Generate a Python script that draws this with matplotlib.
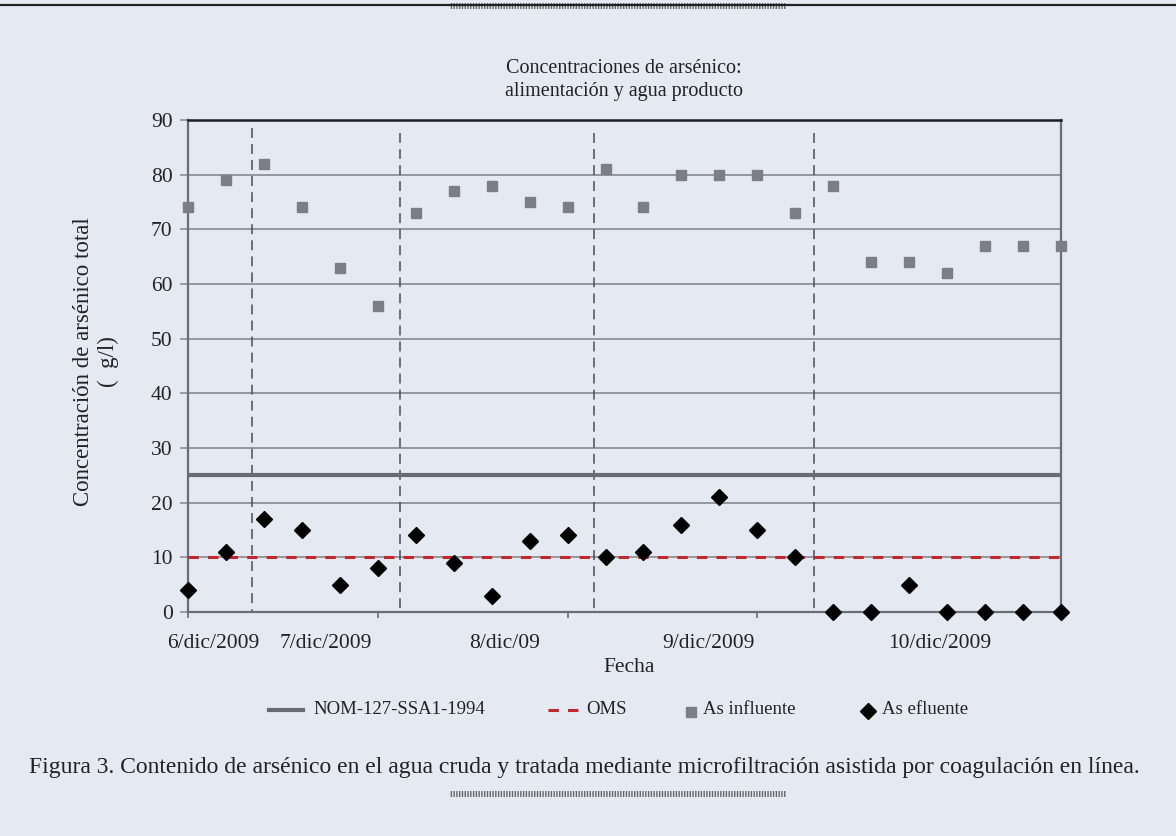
import matplotlib
matplotlib.use('Agg')
import matplotlib.pyplot as plt
from matplotlib.lines import Line2D
from matplotlib.patches import Rectangle

# ---- data ----
influente = [74, 79, 82, 74, 63, 56, 73, 77, 78, 75, 74, 81,
             74, 80, 80, 80, 73, 78, 64, 64, 62, 67, 67, 67]
efluente = [4, 11, 17, 15, 5, 8, 14, 9, 3, 13, 14, 10,
            11, 16, 21, 15, 10, 0, 0, 5, 0, 0, 0, 0]
nom_limit = 25
oms_limit = 10
day_labels = ['6/dic/2009', '7/dic/2009', '8/dic/09', '9/dic/2009', '10/dic/2009']
day_label_pos = [0.66, 3.64, 8.35, 13.7, 19.8]
day_dividers = [1.68, 5.58, 10.7, 16.5]
divider_tops = [88.5, 87.6, 87.6, 87.6]
y_ticks = [0, 10, 20, 30, 40, 50, 60, 70, 80, 90]
x_major = [0, 5, 10, 15, 20]

BG = '#e5eaf2'
GRID = '#8d9097'
SPINE = '#6a6d73'
TXT = '#222222'

plt.rcParams['font.family'] = ['Liberation Serif', 'DejaVu Serif']

W, H = 1176, 836
def px(x, y):
    return (x / W, 1 - y / H)

fig = plt.figure(figsize=(W / 100, H / 100), dpi=100, facecolor=BG)
ax = fig.add_axes([188 / W, 1 - 612 / H, (1061 - 188) / W, (612 - 120) / H])
ax.set_facecolor(BG)

x = list(range(len(influente)))
ax.set_xlim(0, len(influente) - 1)
ax.set_ylim(0, 90)

# grid
ax.set_yticks(y_ticks)
ax.set_yticklabels([str(v) for v in y_ticks], fontsize=15.5, color=TXT)
ax.grid(axis='y', color=GRID, lw=1.3, zorder=0)
ax.set_axisbelow(True)
ax.tick_params(axis='y', direction='out', length=6, width=1.2, color=GRID, pad=5)

ax.set_xticks(x_major)
ax.set_xticklabels([])
ax.tick_params(axis='x', which='major', direction='out', length=4, width=1.2, color=SPINE)
ax.set_xticks(day_label_pos, minor=True)
ax.set_xticklabels(day_labels, minor=True, fontsize=15.5, color=TXT)
ax.tick_params(axis='x', which='minor', length=0, pad=16)

# spines
for s in ['left', 'bottom', 'right']:
    ax.spines[s].set_color(SPINE)
    ax.spines[s].set_linewidth(1.6)
ax.spines['top'].set_color('#1e1e22')
ax.spines['top'].set_linewidth(1.8)

# day dividers
for d, t in zip(day_dividers, divider_tops):
    ax.plot([d, d], [t, 0], color='#4a4d55', lw=1.1, dashes=(6.5, 4), zorder=2)

# limits
ax.axhline(nom_limit, color='#686b73', lw=3, zorder=3)
ax.axhline(oms_limit, color='#c1272d', lw=2.2, dashes=(3.4, 3.0), zorder=3)

# series
ax.plot(x, influente, 's', ms=7.5, color='#7b7e86', mec='#7b7e86',
        clip_on=False, zorder=4)
ax.plot(x, efluente, 'D', ms=8.5, color='black', clip_on=False, zorder=5)

# title & labels
fig.text(*px(624, 80), 'Concentraciones de arsénico:\nalimentación y agua producto',
         ha='center', va='center', fontsize=14.5, color=TXT, linespacing=1.25)
fig.text(*px(96, 362), 'Concentración de arsénico total\n(  g/l)',
         ha='center', va='center', rotation=90, fontsize=16.5, color=TXT,
         linespacing=1.2, multialignment='center')
fig.text(*px(629, 667), 'Fecha', ha='center', va='center', fontsize=15.5, color=TXT)

# legend (manual)
ly = 710
fig.add_artist(Line2D([269 / W, 303 / W], [1 - ly / H] * 2, color='#686b73', lw=3))
fig.text(*px(313, ly), 'NOM-127-SSA1-1994', ha='left', va='center', fontsize=13.5, color=TXT)
fig.add_artist(Line2D([548 / W, 578 / W], [1 - ly / H] * 2, color='#c1272d', lw=2.2,
                      dashes=(3.4, 3.0)))
fig.text(*px(586, ly), 'OMS', ha='left', va='center', fontsize=13.5, color=TXT)
fig.add_artist(Line2D([691 / W], [1 - (ly + 2) / H], marker='s', ms=7, color='#7b7e86', lw=0))
fig.text(*px(703, ly), 'As influente', ha='left', va='center', fontsize=13.5, color=TXT)
fig.add_artist(Line2D([868 / W], [1 - (ly + 1) / H], marker='D', ms=8.5, color='black', lw=0))
fig.text(*px(882, ly), 'As efluente', ha='left', va='center', fontsize=13.5, color=TXT)

# caption
fig.text(*px(584, 768),
         'Figura 3. Contenido de arsénico en el agua cruda y tratada mediante '
         'microfiltración asistida por coagulación en línea.',
         ha='center', va='center', fontsize=17, color=TXT)

# decorative top rule and hatched tabs
fig.add_artist(Line2D([0, 1], [1 - 5 / H] * 2, color='#222222', lw=1.6))
for (y0, y1) in [(3, 9), (791, 797)]:
    fig.add_artist(Rectangle((450 / W, 1 - y1 / H), (786 - 450) / W, (y1 - y0) / H,
                             facecolor=BG, edgecolor='#666666', hatch='||||||', lw=0,
                             transform=fig.transFigure))

fig.savefig('out.png', dpi=100, facecolor=BG)
